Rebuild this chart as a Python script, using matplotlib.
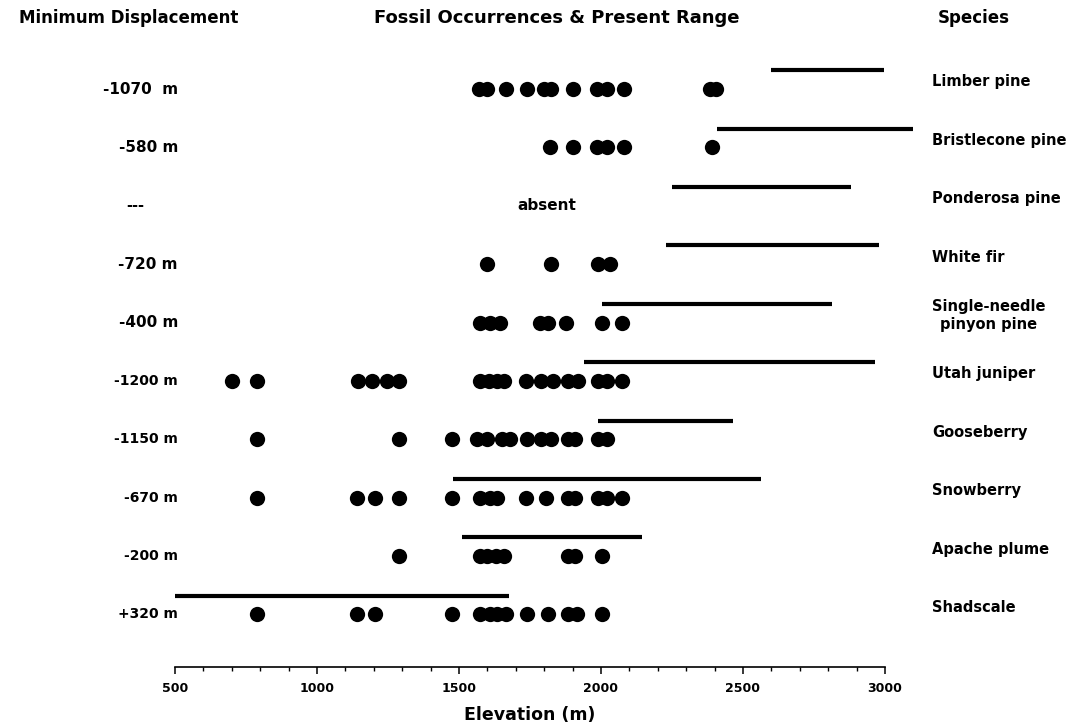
import matplotlib
matplotlib.use("Agg")
import matplotlib.pyplot as plt
from matplotlib.transforms import blended_transform_factory
from matplotlib.ticker import MultipleLocator

# ---- data ----
species = ["Limber pine", "Bristlecone pine", "Ponderosa pine", "White fir",
           "Single-needle\npinyon pine", "Utah juniper", "Gooseberry",
           "Snowberry", "Apache plume", "Shadscale"]
displacement = ["-1070  m", "-580 m", "---", "-720 m", "-400 m", "-1200 m",
                "-1150 m", "-670 m", "-200 m", "+320 m"]

fossils = [
    [1570, 1600, 1665, 1740, 1800, 1825, 1900, 1985, 2020, 2080, 2385, 2405],
    [1820, 1900, 1985, 2020, 2080, 2390],
    [],
    [1600, 1825, 1990, 2030],
    [1575, 1610, 1645, 1785, 1815, 1875, 2005, 2075],
    [700, 790, 1145, 1195, 1245, 1290, 1575, 1605, 1635, 1660, 1735, 1790,
     1830, 1885, 1920, 1990, 2020, 2075],
    [790, 1290, 1475, 1565, 1600, 1650, 1680, 1740, 1790, 1825, 1885, 1910,
     1990, 2020],
    [790, 1140, 1205, 1290, 1475, 1575, 1610, 1635, 1735, 1805, 1885, 1910,
     1990, 2020, 2075],
    [1290, 1575, 1600, 1630, 1660, 1885, 1910, 2005],
    [790, 1140, 1205, 1475, 1575, 1610, 1635, 1665, 1740, 1815, 1885, 1915,
     2005],
]

range_low = [2600, 2410, 2250, 2230, 2005, 1940, 1990, 1480, 1510, 500]
range_high = [2995, 3100, 2880, 2980, 2815, 2965, 2465, 2565, 2145, 1675]

x_ticks = [500, 1000, 1500, 2000, 2500, 3000]

# label font sizes (the scanned original prints upper labels a bit wider)
disp_sizes = [11, 11, 10.5, 11, 11, 10, 10, 10, 10, 10]

# ---- figure ----
W, H = 1079, 725
fig = plt.figure(figsize=(W / 100, H / 100), dpi=100)
ax = fig.add_axes([175 / W, 1 - 667 / H, 710 / W, (667 - 50) / H])

font = "DejaVu Sans"
for i, vals in enumerate(fossils):
    ax.plot(vals, [i] * len(vals), "o", color="black", markersize=11,
            markeredgewidth=0, clip_on=False)
    ax.plot([range_low[i], range_high[i]], [i - 0.32, i - 0.32], "-",
            color="black", linewidth=3.0, solid_capstyle="butt", clip_on=False)

ax.set_xlim(500, 3000)
ax.set_ylim(9.9, -0.668)
for s in ["top", "right", "left"]:
    ax.spines[s].set_visible(False)
ax.spines["bottom"].set_linewidth(1.2)
ax.set_yticks([])
ax.set_xticks(x_ticks)
ax.xaxis.set_minor_locator(MultipleLocator(100))
ax.tick_params(axis="x", which="major", direction="out", length=5, width=1.1,
               pad=6, labelsize=9)
ax.tick_params(axis="x", which="minor", direction="out", length=3, width=1.0)
for lab in ax.get_xticklabels():
    lab.set_fontweight("bold")
    lab.set_family(font)
ax.set_xlabel("Elevation (m)", fontsize=12.5, fontweight="bold", family=font,
              labelpad=8)

tr = blended_transform_factory(fig.transFigure, ax.transData)
for i, d in enumerate(displacement):
    if d == "---":
        ax.text(135 / W, i, d, transform=tr, ha="center", va="center",
                fontsize=disp_sizes[i], fontweight="bold", family=font)
    else:
        ax.text(178 / W, i, d, transform=tr, ha="right", va="center",
                fontsize=disp_sizes[i], fontweight="bold", family=font)
for i, sp in enumerate(species):
    ax.text(932 / W, i - 0.12, sp, transform=tr, ha="left", va="center",
            multialignment="center", fontsize=10.5, fontweight="bold",
            family=font, linespacing=1.3)

ax.text(1810, 2, "absent", ha="center", va="center", fontsize=11,
        fontweight="bold", family=font)

fig.text(129 / W, 1 - 18 / H, "Minimum Displacement", ha="center",
         va="center", fontsize=12, fontweight="bold", family=font)
fig.text(557 / W, 1 - 18 / H, "Fossil Occurrences & Present Range",
         ha="center", va="center", fontsize=13, fontweight="bold", family=font)
fig.text(974 / W, 1 - 18 / H, "Species", ha="center", va="center",
         fontsize=12, fontweight="bold", family=font)

fig.savefig("out.png", dpi=100, facecolor="white")
